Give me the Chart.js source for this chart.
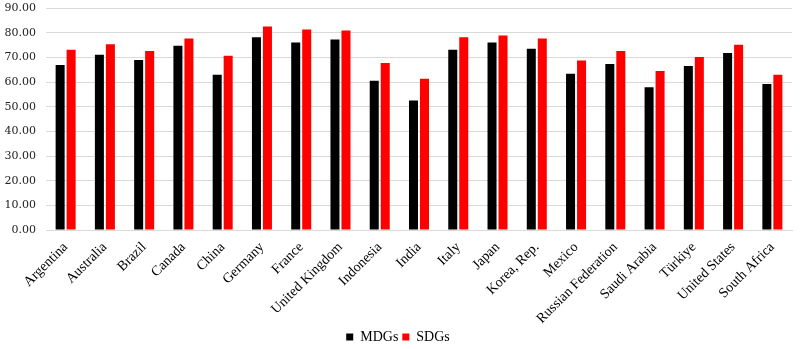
<!DOCTYPE html>
<html>
<head>
<meta charset="utf-8">
<script src="https://cdn.jsdelivr.net/npm/chart.js@4.4.1/dist/chart.umd.min.js"></script>
<style>
  html, body { margin: 0; padding: 0; background: #fff; }
  #wrap { width: 801px; height: 349px; }
</style>
</head>
<body>
<div id="wrap"><canvas id="myChart" width="801" height="349"></canvas></div>
<script>
// donnees
const countries = ['Argentina', 'Australia', 'Brazil', 'Canada', 'China', 'Germany', 'France',
  'United Kingdom', 'Indonesia', 'India', 'Italy', 'Japan', 'Korea, Rep.', 'Mexico',
  'Russian Federation', 'Saudi Arabia', 'Türkiye', 'United States', 'South Africa'];
const mdgs = [66.9, 71.0, 68.9, 74.7, 62.9, 78.1, 76.0, 77.2, 60.5, 52.5, 73.1, 76.0, 73.5, 63.3, 67.3, 57.9, 66.5, 71.8, 59.2];
const sdgs = [73.1, 75.3, 72.6, 77.6, 70.6, 82.5, 81.3, 80.9, 67.7, 61.3, 78.1, 78.9, 77.6, 68.7, 72.6, 64.5, 70.1, 75.1, 62.9];
const yTicks = [0, 10, 20, 30, 40, 50, 60, 70, 80, 90];

/**************************************************/
const serif = "'Liberation Serif', 'Times New Roman', serif";

const ctx = document.getElementById('myChart').getContext('2d');
const myChart = new Chart(ctx, {
  type: 'bar',
  data: {
    labels: countries,
    datasets: [{
      label: 'MDGs',
      data: mdgs,
      backgroundColor: '#000000',
      borderWidth: 0
    }, {
      label: 'SDGs',
      data: sdgs,
      backgroundColor: '#ff0000',
      borderWidth: 0
    }]
  },
  options: {
    responsive: false,
    animation: false,
    layout: { padding: { left: 4, right: 9, top: 8, bottom: -5 } },
    categoryPercentage: 0.56,
    barPercentage: 0.82,
    plugins: {
      tooltip: { enabled: false },
      legend: {
        position: 'bottom',
        labels: {
          boxWidth: 7,
          boxHeight: 7,
          padding: 4,
          color: '#000',
          font: { family: serif, size: 14 }
        }
      }
    },
    scales: {
      x: {
        grid: { display: false, drawTicks: false },
        border: { color: '#d9d9d9' },
        ticks: {
          minRotation: 45,
          maxRotation: 45,
          autoSkip: false,
          padding: 9,
          color: '#000',
          font: { family: serif, size: 14 }
        },
        afterFit: function (scale) { scale.height = 96; }
      },
      y: {
        min: 0,
        max: 90,
        afterBuildTicks: function (scale) {
          scale.ticks = yTicks.map(v => ({ value: v }));
        },
        grid: { color: '#d9d9d9', drawTicks: false },
        border: { display: false },
        ticks: {
          padding: 10,
          color: '#222',
          font: { family: "'DejaVu Serif', serif", size: 11 },
          callback: v => Number(v).toFixed(2)
        },
        afterFit: function (scale) {
          scale.width = 42;
          scale.paddingTop = 0;
          scale.paddingBottom = 0;
        }
      }
    }
  }
});
</script>
</body>
</html>
